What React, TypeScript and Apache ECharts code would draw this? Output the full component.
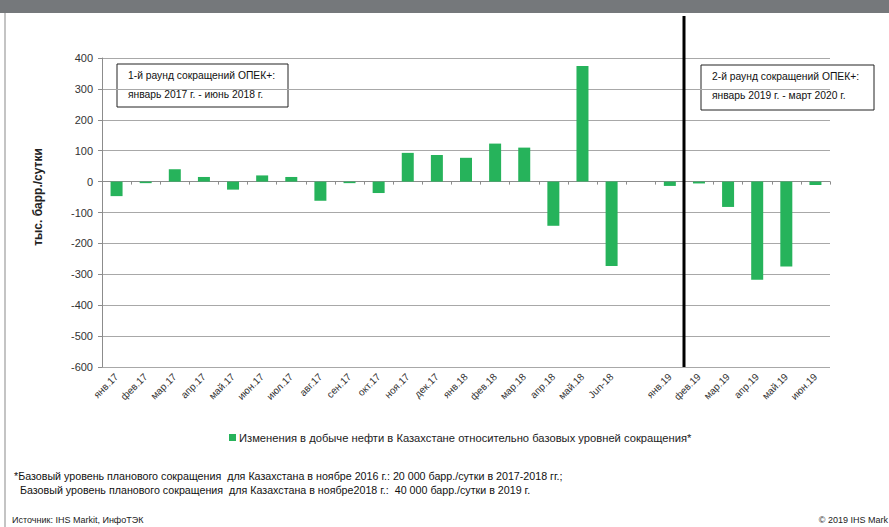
import React, { useEffect, useRef } from 'react';
import * as echarts from 'echarts';

const categories = [
  'янв.17', 'фев.17', 'мар.17', 'апр.17', 'май.17', 'июн.17', 'июл.17', 'авг.17',
  'сен.17', 'окт.17', 'ноя.17', 'дек.17', 'янв.18', 'фев.18', 'мар.18', 'апр.18',
  'май.18', 'Jun-18', '', 'янв.19', 'фев.19', 'мар.19', 'апр.19', 'май.19', 'июн.19',
];
const changes: (number | null)[] = [
  -47, -5, 40, 15, -26, 20, 15, -62, -5, -37, 93, 86, 77, 123, 110, -143,
  374, -273, null, -14, -6, -82, -318, -275, -11,
];
const yMin = -600;
const yMax = 400;
const yStep = 100;

const seriesName = 'Изменения в добыче нефти в Казахстане относительно базовых уровней сокращения*';
const yTitle = 'тыс. барр./сутки';
const round1 = ['1-й раунд сокращений ОПЕК+:', 'январь 2017 г. - июнь 2018 г.'];
const round2 = ['2-й раунд сокращений ОПЕК+:', 'январь 2019 г. - март 2020 г.'];
const note1 = '*Базовый уровень планового сокращения  для Казахстана в ноябре 2016 г.: 20 000 барр./сутки в 2017-2018 гг.;';
const note2 = 'Базовый уровень планового сокращения  для Казахстана в ноябре2018 г.:  40 000 барр./сутки в 2019 г.';
const source = 'Источник: IHS Markit, ИнфоТЭК';
const copyright = '© 2019 IHS Mark';

const FONT = "'Liberation Sans', Arial, sans-serif";
const GREEN = '#26B35B';

export default function App() {
  const ref = useRef<HTMLDivElement>(null);
  useEffect(() => {
    if (!ref.current) return;
    const chart = echarts.init(ref.current, undefined, { renderer: 'svg' });
    const box = (x: number, y: number, w: number, h: number, lines: string[]) => ({
      type: 'group',
      x,
      y,
      z: 100,
      children: [
        { type: 'rect', shape: { x: 0, y: 0, width: w, height: h }, style: { fill: '#fff', stroke: '#222', lineWidth: 1 } },
        { type: 'text', x: 11, y: 11, style: { text: lines[0], font: `10.3px ${FONT}`, fill: '#111', textVerticalAlign: 'middle' } },
        { type: 'text', x: 11, y: 30, style: { text: lines[1], font: `10.3px ${FONT}`, fill: '#111', textVerticalAlign: 'middle' } },
      ],
    });
    chart.setOption({
      animation: false,
      backgroundColor: '#fff',
      grid: { left: 102, right: 59, top: 58, bottom: 160, containLabel: false },
      legend: {
        data: [seriesName],
        left: 224,
        top: 427,
        icon: 'rect',
        itemWidth: 7,
        itemHeight: 7,
        itemGap: 0,
        textStyle: { fontFamily: FONT, fontSize: 11.2, color: '#222', padding: [0, 0, 0, -2] },
      },
      xAxis: [
        {
          type: 'category',
          data: categories,
          boundaryGap: true,
          axisLine: { show: false, onZero: false },
          axisTick: { show: false },
          axisLabel: { interval: 0, rotate: 45, fontFamily: FONT, fontSize: 10, color: '#333', margin: 8 },
        },
        {
          type: 'category',
          data: categories,
          boundaryGap: true,
          position: 'bottom',
          axisLine: { show: true, onZero: true, lineStyle: { color: '#8c8c8c', width: 1 } },
          axisTick: { show: true, interval: 0, length: 3, lineStyle: { color: '#8c8c8c' } },
          axisLabel: { show: false },
        },
      ],
      yAxis: {
        type: 'value',
        min: yMin,
        max: yMax,
        interval: yStep,
        axisLine: { show: true, lineStyle: { color: '#8c8c8c' } },
        axisTick: { show: true, length: 4, lineStyle: { color: '#8c8c8c' } },
        axisLabel: { fontFamily: FONT, fontSize: 11, color: '#333', margin: 9 },
        splitLine: { show: true, lineStyle: { color: '#a8a8a8', width: 1 } },
      },
      series: [
        {
          name: seriesName,
          type: 'bar',
          xAxisIndex: 0,
          data: changes,
          barWidth: 12,
          itemStyle: { color: GREEN },
        },
      ],
      graphic: [
        { type: 'rect', shape: { x: 0, y: 0, width: 889, height: 13 }, style: { fill: '#75787b' }, z: 50 },
        { type: 'rect', shape: { x: 4, y: 13, width: 2, height: 514 }, style: { fill: '#c4c4c4' }, z: 50 },
        { type: 'line', shape: { x1: 684, y1: 16, x2: 684, y2: 367 }, style: { stroke: '#000', lineWidth: 3 }, z: 90 },
        box(117, 64, 171, 43, round1),
        box(701, 65, 173, 45, round2),
        {
          type: 'text', x: 38, y: 197, rotation: Math.PI / 2, z: 50,
          style: { text: yTitle, font: `bold 12px ${FONT}`, fill: '#222', textAlign: 'center', textVerticalAlign: 'middle' },
        },
        { type: 'text', x: 14, y: 476, z: 50, style: { text: note1, font: `10.7px ${FONT}`, fill: '#111', textVerticalAlign: 'middle' } },
        { type: 'text', x: 20, y: 490, z: 50, style: { text: note2, font: `10.7px ${FONT}`, fill: '#111', textVerticalAlign: 'middle' } },
        { type: 'text', x: 12, y: 520, z: 50, style: { text: source, font: `9px ${FONT}`, fill: '#222', textVerticalAlign: 'middle' } },
        { type: 'text', x: 888, y: 520, z: 50, style: { text: copyright, font: `9px ${FONT}`, fill: '#222', textAlign: 'right', textVerticalAlign: 'middle' } },
      ],
    });
    return () => chart.dispose();
  }, []);
  return <div ref={ref} style={{ position: 'fixed', left: 0, top: 0, width: 889, height: 527 }} />;
}
